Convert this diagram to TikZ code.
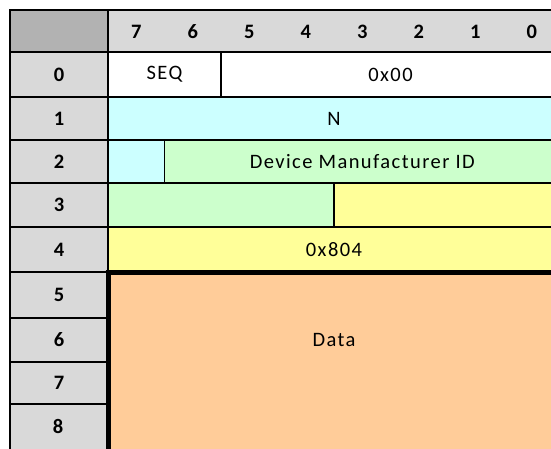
\documentclass[tikz,border=0pt]{standalone}
\usepackage{fontspec}
\setmainfont{Carlito}[LetterSpace=7]
\usepackage{tikz}
\definecolor{hdrgray}{HTML}{D9D9D9}
\definecolor{cornergray}{HTML}{B2B2B2}
\definecolor{cyancell}{HTML}{CCFFFF}
\definecolor{greencell}{HTML}{CCFFCC}
\definecolor{yellowcell}{HTML}{FFFF99}
\definecolor{orangecell}{HTML}{FFCC99}

\begin{document}
\begin{tikzpicture}[x=1pt,y=-1pt]
	\tikzstyle{cell}=[rectangle,draw=black,line width=1.5pt,anchor=north west,outer sep=0pt,inner sep=0pt,font=\fontsize{20.5}{23}\selectfont]
	\tikzstyle{rowlbl}=[cell,fill=hdrgray,minimum width=98pt,font=\fontsize{20.5}{23}\selectfont\bfseries]
	\tikzstyle{bitlbl}=[inner sep=0pt,font=\fontsize{20.5}{23}\selectfont\bfseries]
	\useasboundingbox (0,0) rectangle (551,448);
	\clip (0,0) rectangle (551,448);
	\fill[white] (0,0) rectangle (551,448);
	\node[cell,fill=cornergray,minimum width=98pt,minimum height=42pt] (corner) at (10,10) {};
	\node[cell,fill=hdrgray,minimum width=452pt,minimum height=42pt] (hdr) at (108,10) {};
	\foreach \b [count=\i from 0] in {7,6,5,4,3,2,1,0}
		\node[bitlbl] (bit\b) at (136.25+\i*56.5,32) {\b};
	\node[rowlbl,minimum height=45pt] (r0) at (10,52) {0};
	\node[rowlbl,minimum height=43pt] (r1) at (10,97) {1};
	\node[rowlbl,minimum height=43pt] (r2) at (10,140) {2};
	\node[rowlbl,minimum height=44pt] (r3) at (10,183) {3};
	\node[rowlbl,minimum height=45pt] (r4) at (10,227) {4};
	\node[rowlbl,minimum height=46pt] (r5) at (10,272) {5};
	\node[rowlbl,minimum height=44pt] (r6) at (10,318) {6};
	\node[rowlbl,minimum height=42pt] (r7) at (10,362) {7};
	\node[rowlbl,minimum height=60pt] (r8) at (10,404) {};
	\node[bitlbl] (r8txt) at (58,426) {8};
	\node[cell,fill=white,minimum width=113pt,minimum height=45pt] (seq) at (108,52) {SEQ};
	\node[cell,fill=white,minimum width=339pt,minimum height=45pt] (code) at (221,52) {0x00};
	\node[cell,fill=cyancell,minimum width=452pt,minimum height=43pt] (n) at (108,97) {N};
	\node[cell,fill=cyancell,minimum width=56.5pt,minimum height=43pt] (nlow) at (108,140) {};
	\node[cell,fill=greencell,minimum width=395.5pt,minimum height=43pt] (mfr) at (164.5,140) {Device Manufacturer ID};
	\node[cell,fill=greencell,minimum width=226pt,minimum height=44pt] (mfrlow) at (108,183) {};
	\node[cell,fill=yellowcell,minimum width=226pt,minimum height=44pt] (cmdhigh) at (334,183) {};
	\node[cell,fill=yellowcell,minimum width=452pt,minimum height=45pt] (cmd) at (108,227) {0x804};
	\node[cell,draw=none,fill=orangecell,minimum width=452pt,minimum height=200pt] (data) at (108,272) {};
	\node[font=\fontsize{20.5}{23}\selectfont] (datatxt) at (334,340) {Data};
	\draw[line width=5pt] (data.north west) -- (data.south west);
	\draw[line width=5pt] ([xshift=-2.5pt]data.north west) -- (data.north east);
\end{tikzpicture}
\end{document}
